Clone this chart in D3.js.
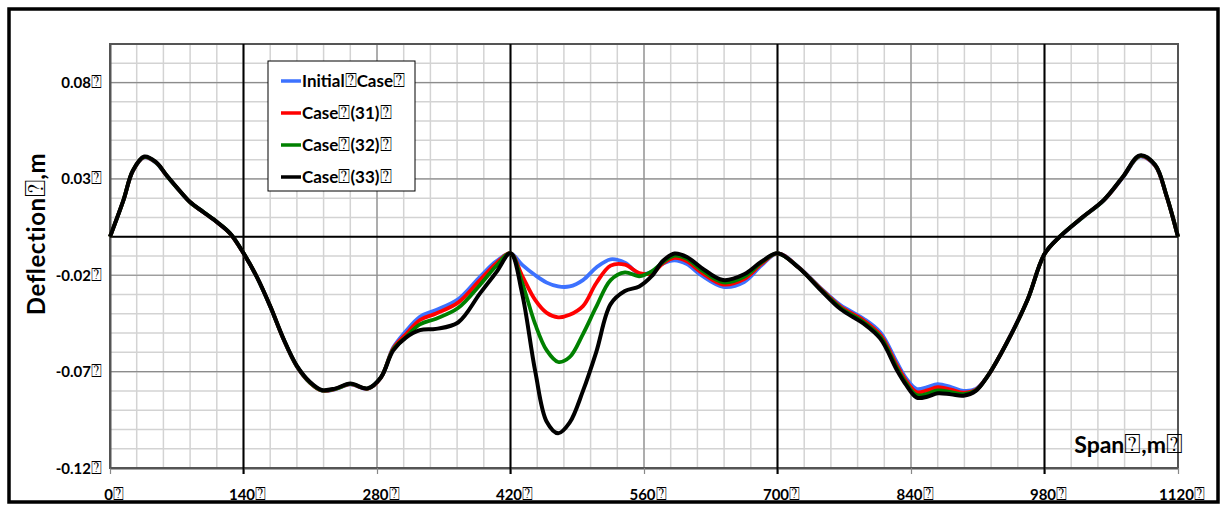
<!DOCTYPE html>
<html>
<head>
<meta charset="utf-8">
<script src="https://cdn.jsdelivr.net/npm/d3@7"></script>
<style>
  html, body { margin: 0; padding: 0; background: #fff; }
  svg { display: block; }
  text { font-family: Lato, "Open Sans", sans-serif; font-weight: 700; fill: #000; }
  .box { font-family: "DejaVu Sans", sans-serif; font-weight: 400; }
</style>
</head>
<body>
<svg id="chart" width="1221" height="505"></svg>
<script>
// Span positions (m) shared by every series
const spanX = [0, 14, 24, 36, 48, 60, 72, 84, 98, 112, 126, 140, 154, 168, 182, 196, 210, 222, 236, 252, 270, 284, 297,
  310, 325, 342, 365, 388, 405, 420, 432, 446, 458, 470, 482, 496, 510, 525, 540, 555, 568, 580,
  592, 605, 620, 643, 665, 683, 700, 722, 745, 766, 790, 808, 825, 835, 846, 857, 868, 882, 895,
  908, 920, 940, 962, 980, 996, 1020, 1042, 1062, 1080, 1096, 1108, 1120];

// Deflection (m) of each load case at those positions
const initialCase = [0, 0.0187, 0.0340, 0.0411, 0.0384, 0.0312, 0.0243, 0.0178, 0.0127, 0.0076, 0.0016, -0.0086,
  -0.0210, -0.0362, -0.0533, -0.0674, -0.0760, -0.0799, -0.0792, -0.0766, -0.0790, -0.0733, -0.0575,
  -0.0492, -0.0415, -0.0380, -0.0325, -0.0208, -0.0128, -0.0086, -0.0145, -0.0200, -0.0238, -0.0258,
  -0.0258, -0.0225, -0.0160, -0.0117, -0.0135, -0.0192, -0.0183, -0.0139,
  -0.0122, -0.0142, -0.0200, -0.0260, -0.0235, -0.0150, -0.0086, -0.0157, -0.0265, -0.0355, -0.0424,
  -0.0497, -0.0650, -0.0735, -0.0790, -0.0780, -0.0765, -0.0780, -0.0800,
  -0.0790, -0.0726, -0.0553, -0.0329, -0.0090, 0.0000, 0.0100, 0.0187, 0.0306, 0.0415, 0.0368, 0.0210, 0];

const case31 = [0, 0.0188, 0.0342, 0.0413, 0.0386, 0.0313, 0.0244, 0.0179, 0.0127, 0.0076, 0.0016, -0.0086,
  -0.0209, -0.0361, -0.0532, -0.0673, -0.0759, -0.0798, -0.0791, -0.0765, -0.0789, -0.0732, -0.0580,
  -0.0508, -0.0432, -0.0398, -0.0342, -0.0225, -0.0138, -0.0086, -0.0200, -0.0329, -0.0395, -0.0418,
  -0.0405, -0.0360, -0.0240, -0.0150, -0.0145, -0.0188, -0.0190, -0.0138,
  -0.0110, -0.0128, -0.0185, -0.0248, -0.0220, -0.0142, -0.0086, -0.0158, -0.0268, -0.0362, -0.0433,
  -0.0510, -0.0665, -0.0748, -0.0806, -0.0797, -0.0781, -0.0793, -0.0809,
  -0.0794, -0.0726, -0.0554, -0.0329, -0.0090, 0.0000, 0.0101, 0.0188, 0.0308, 0.0418, 0.0370, 0.0211, 0];

const case32 = [0, 0.0188, 0.0343, 0.0414, 0.0387, 0.0314, 0.0244, 0.0179, 0.0128, 0.0077, 0.0017, -0.0085,
  -0.0209, -0.0361, -0.0531, -0.0672, -0.0758, -0.0797, -0.0790, -0.0764, -0.0788, -0.0731, -0.0585,
  -0.0522, -0.0455, -0.0425, -0.0370, -0.0250, -0.0152, -0.0086, -0.0235, -0.0455, -0.0590, -0.0650,
  -0.0625, -0.0505, -0.0363, -0.0225, -0.0185, -0.0205, -0.0180, -0.0132,
  -0.0098, -0.0115, -0.0172, -0.0237, -0.0208, -0.0135, -0.0086, -0.0159, -0.0272, -0.0368, -0.0442,
  -0.0520, -0.0678, -0.0760, -0.0822, -0.0815, -0.0797, -0.0806, -0.0817,
  -0.0797, -0.0726, -0.0555, -0.0330, -0.0090, 0.0000, 0.0101, 0.0189, 0.0309, 0.0420, 0.0372, 0.0212, 0];

const case33 = [0, 0.0189, 0.0344, 0.0416, 0.0388, 0.0315, 0.0245, 0.0180, 0.0128, 0.0077, 0.0017, -0.0085,
  -0.0208, -0.0360, -0.0530, -0.0670, -0.0755, -0.0795, -0.0788, -0.0762, -0.0787, -0.0730, -0.0590,
  -0.0525, -0.0485, -0.0478, -0.0445, -0.0294, -0.0185, -0.0086, -0.0290, -0.0700, -0.0960, -0.1020,
  -0.0965, -0.0800, -0.0597, -0.0350, -0.0282, -0.0258, -0.0205, -0.0125,
  -0.0087, -0.0105, -0.0160, -0.0225, -0.0195, -0.0130, -0.0086, -0.0160, -0.0275, -0.0375, -0.0450,
  -0.0530, -0.0690, -0.0770, -0.0835, -0.0830, -0.0812, -0.0818, -0.0825,
  -0.0800, -0.0726, -0.0555, -0.0330, -0.0090, 0.0000, 0.0102, 0.0190, 0.0310, 0.0422, 0.0373, 0.0212, 0];

const seriesNames = ["Initial\u2370Case\u2370", "Case\u2370(31)\u2370", "Case\u2370(32)\u2370", "Case\u2370(33)\u2370"];
const seriesColors = ["#3d72ff", "#ff0000", "#008000", "#000000"];
const seriesValues = [initialCase, case31, case32, case33];

const xTicks = [0, 140, 280, 420, 560, 700, 840, 980, 1120];
const yTicks = [-0.12, -0.07, -0.02, 0.03, 0.08];
const supportLines = [140, 420, 700, 980];

const svg = d3.select("#chart");
const plot = { left: 110, right: 1178, top: 44, bottom: 468 };
const BOX = "1.2em";

const x = d3.scaleLinear().domain([0, 1120]).range([plot.left, plot.right]);
const y = d3.scaleLinear().domain([-0.12, 0.10]).range([plot.bottom, plot.top]);

// minor grid
const minorX = d3.range(0, 1120 + 1, 28);
const minorY = d3.range(-12, 11, 1).map(d => d / 100);
const grid = svg.append("g");
grid.selectAll(".mx").data(minorX).join("line")
  .attr("x1", d => x(d)).attr("x2", d => x(d))
  .attr("y1", plot.top).attr("y2", plot.bottom)
  .attr("stroke", "#d3d3d3").attr("stroke-width", 1.5);
grid.selectAll(".my").data(minorY).join("line")
  .attr("x1", plot.left).attr("x2", plot.right)
  .attr("y1", d => y(d)).attr("y2", d => y(d))
  .attr("stroke", "#d3d3d3").attr("stroke-width", 1.5);

// major grid
grid.selectAll(".Mx").data(xTicks).join("line")
  .attr("x1", d => x(d)).attr("x2", d => x(d))
  .attr("y1", plot.top).attr("y2", plot.bottom)
  .attr("stroke", "#8c8c8c").attr("stroke-width", 1.2);
grid.selectAll(".My").data(yTicks).join("line")
  .attr("x1", plot.left).attr("x2", plot.right)
  .attr("y1", d => y(d)).attr("y2", d => y(d))
  .attr("stroke", "#8c8c8c").attr("stroke-width", 1.2);

// plot frame
svg.append("rect")
  .attr("x", plot.left).attr("y", plot.top)
  .attr("width", plot.right - plot.left).attr("height", plot.bottom - plot.top)
  .attr("fill", "none").attr("stroke", "#555").attr("stroke-width", 2);

// axes
const xAxis = svg.append("g")
  .attr("transform", `translate(0,${plot.bottom})`)
  .call(d3.axisBottom(x).tickValues(xTicks).tickSize(6).tickSizeOuter(0).tickFormat(() => ""));
xAxis.select(".domain").attr("stroke", "#555").attr("stroke-width", 2);
xAxis.selectAll(".tick line").attr("stroke", "#888").attr("stroke-width", 1.2);

const yAxis = svg.append("g")
  .attr("transform", `translate(${plot.left},0)`)
  .call(d3.axisLeft(y).tickValues(yTicks).tickSize(0).tickSizeOuter(0).tickFormat(() => ""));
yAxis.select(".domain").attr("stroke", "#555").attr("stroke-width", 2);

// support lines and zero line
svg.append("g").selectAll("line").data(supportLines).join("line")
  .attr("x1", d => x(d)).attr("x2", d => x(d))
  .attr("y1", plot.top).attr("y2", plot.bottom + 6)
  .attr("stroke", "#000").attr("stroke-width", 2);
svg.append("line")
  .attr("x1", plot.left).attr("x2", plot.right)
  .attr("y1", y(0)).attr("y2", y(0))
  .attr("stroke", "#000").attr("stroke-width", 2);

// text made of plain runs and missing-glyph boxes
function boxedText(sel, txt) {
  const parts = txt.split("\u2370");
  parts.forEach((p, k) => {
    if (p) sel.append("tspan").text(p);
    if (k < parts.length - 1) sel.append("tspan").attr("class", "box").attr("font-size", BOX).text("\u2370");
  });
}

// tick labels
svg.append("g").selectAll("text").data(xTicks).join("text")
  .attr("x", d => x(d) + 4).attr("y", 500)
  .attr("text-anchor", "middle").attr("font-size", 15)
  .each(function(d) { boxedText(d3.select(this), d + "\u2370"); });
svg.append("g").selectAll("text").data(yTicks).join("text")
  .attr("x", 102).attr("y", d => y(d) + 5.5)
  .attr("text-anchor", "end").attr("font-size", 15)
  .each(function(d) { boxedText(d3.select(this), d.toFixed(2) + "\u2370"); });

// axis titles
const yTitle = svg.append("text")
  .attr("transform", "translate(45,234) rotate(-90)")
  .attr("text-anchor", "middle").attr("font-size", 24).attr("letter-spacing", 0.6);
boxedText(yTitle, "Deflection\u2370,m");

const xTitle = svg.append("text")
  .attr("x", 1183).attr("y", 453).attr("text-anchor", "end").attr("font-size", 23);
boxedText(xTitle, "Span\u2370,m\u2370");

// series
const line = d3.line()
  .x((d, i) => x(spanX[i]))
  .y(d => y(d))
  .curve(d3.curveCatmullRom.alpha(0.5));
svg.append("g").selectAll("path").data(seriesValues).join("path")
  .attr("d", d => line(d))
  .attr("fill", "none")
  .attr("stroke", (d, i) => seriesColors[i])
  .attr("stroke-width", (d, i) => i === 3 ? 4 : 3.8)
  .attr("stroke-linejoin", "round");

// legend
const legend = svg.append("g");
legend.append("rect")
  .attr("x", 268).attr("y", 61).attr("width", 147).attr("height", 130)
  .attr("fill", "#fff").attr("stroke", "#000").attr("stroke-width", 1);
const rows = legend.selectAll("g.row").data(seriesNames).join("g")
  .attr("transform", (d, i) => `translate(0,${81 + i * 32})`);
rows.append("line")
  .attr("x1", 281).attr("x2", 301).attr("y1", 0).attr("y2", 0)
  .attr("stroke", (d, i) => seriesColors[i]).attr("stroke-width", 3.5);
rows.append("text")
  .attr("x", 302).attr("y", 6).attr("font-size", 17)
  .each(function(d) { boxedText(d3.select(this), d); });

// outer chart frame
svg.append("rect")
  .attr("x", 9).attr("y", 9).attr("width", 1209).attr("height", 493)
  .attr("fill", "none").attr("stroke", "#000").attr("stroke-width", 3.5);
</script>
</body>
</html>
